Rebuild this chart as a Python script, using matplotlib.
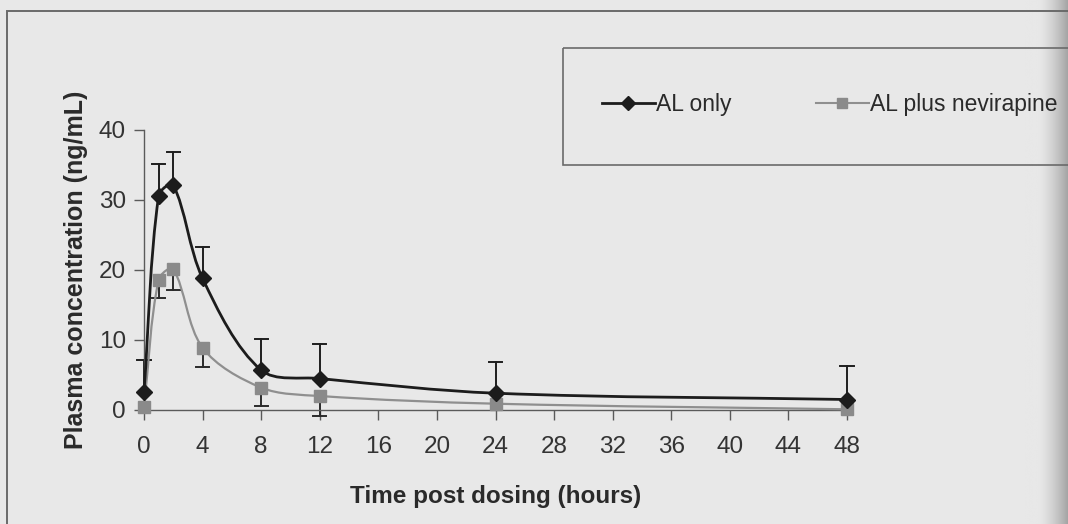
import numpy as np
import matplotlib
matplotlib.use("Agg")
import matplotlib.pyplot as plt
from matplotlib.path import Path
from matplotlib.patches import PathPatch, Rectangle
from matplotlib.lines import Line2D
from matplotlib.colors import LinearSegmentedColormap

# ---- data ----
time_h = [0, 1, 2, 4, 8, 12, 24, 48]
al_only = [2.6, 30.6, 32.1, 18.8, 5.7, 4.5, 2.4, 1.5]
al_only_upper = [7.1, 35.2, 36.8, 23.3, 10.2, 9.4, 6.9, 6.3]
al_nev = [0.5, 18.6, 20.1, 8.9, 3.2, 2.0, 0.9, 0.1]
al_nev_lower = [None, 16.0, 17.1, 6.2, 0.6, -0.9, None, None]
x_ticks = list(range(0, 49, 4))
y_ticks = [0, 10, 20, 30, 40]
series_names = ["AL only", "AL plus nevirapine"]

BG = "#e8e8e8"
FONT = ["Liberation Sans", "DejaVu Sans"]
NARROW = ["Liberation Sans Narrow", "Liberation Sans", "DejaVu Sans"]
plt.rcParams["font.family"] = FONT

W, H = 1068, 524
fig = plt.figure(figsize=(W / 100, H / 100), dpi=100, facecolor=BG)

# scanned-page right edge shading, page frame, legend box
bg_ax = fig.add_axes([0, 0, 1, 1], zorder=-10)
bg_ax.set_xlim(0, W); bg_ax.set_ylim(H, 0); bg_ax.axis("off")
xs = np.linspace(0, 1, 200)
shade = np.clip((xs - 0.3) / 0.7, 0, 1) ** 1.5
grad = np.vstack([shade, shade])
cm = LinearSegmentedColormap.from_list("edge", [BG, "#a4a4a4"])
bg_ax.imshow(grad, extent=[1025, W, H, 0], aspect="auto", cmap=cm, vmin=0, vmax=1)
bg_ax.plot([7, 7, W], [H, 11, 11], color="#6a6a6a", lw=1.4, solid_joinstyle="miter")
bg_ax.add_patch(Rectangle((563, 48), 600, 117, fill=False, ec="#6a6a6a", lw=1.2))

ax = fig.add_axes([144 / W, (H - 410) / H, (847 - 144) / W, (410 - 130) / H])
ax.set_facecolor("none")
ax.set_xlim(0, 48)
ax.set_ylim(0, 40)
for s in ["top", "right"]:
    ax.spines[s].set_visible(False)
for s in ["left", "bottom"]:
    ax.spines[s].set_color("#5a5a5a")
    ax.spines[s].set_linewidth(1.0)
ax.spines["bottom"].set_bounds(0, 48.3)
ax.set_xticks(x_ticks)
ax.set_yticks(y_ticks)
ax.tick_params(axis="both", direction="out", length=7, width=1.0, color="#5a5a5a",
               labelsize=17.5, labelcolor="#333333")
ax.tick_params(axis="x", pad=12)
ax.tick_params(axis="y", pad=6)


def smooth_path(xv, yv):
    """Bezier smoothing computed in display space, chord-length scaled tangents."""
    tr = ax.transData
    pts = tr.transform(np.column_stack([xv, yv]).astype(float))
    n = len(pts)
    verts = [pts[0]]
    codes = [Path.MOVETO]
    for i in range(n - 1):
        p0 = pts[i - 1] if i > 0 else pts[i]
        p1 = pts[i]
        p2 = pts[i + 1]
        p3 = pts[i + 2] if i + 2 < n else pts[i + 1]
        d01 = np.hypot(*(p1 - p0)); d12 = np.hypot(*(p2 - p1)); d23 = np.hypot(*(p3 - p2))
        s1 = d12 / (d01 + d12) if d01 + d12 > 0 else 0
        s2 = d12 / (d12 + d23) if d12 + d23 > 0 else 0
        c1 = p1 + (p2 - p0) * s1 / 3.0
        c2 = p2 - (p3 - p1) * s2 / 3.0
        verts += [c1, c2, p2]
        codes += [Path.CURVE4] * 3
    verts = tr.inverted().transform(np.array(verts))
    return Path(verts, codes)


def draw_series(xv, yv, color, lw, marker, ms, mcolor, z):
    ax.add_patch(PathPatch(smooth_path(xv, yv), fill=False, ec=color, lw=lw,
                           zorder=z, clip_on=False))
    ax.plot(xv, yv, ls="none", marker=marker, ms=ms, color=mcolor, mec=mcolor,
            zorder=z + 1, clip_on=False)


def draw_err(xv, yv, ends, color, z):
    for x, y, e in zip(xv, yv, ends):
        if e is None:
            continue
        ax.plot([x, x], [y, e], color=color, lw=1.4, zorder=z, clip_on=False)
        ax.plot([x - 0.45, x + 0.45], [e, e], color=color, lw=1.4, zorder=z, clip_on=False)


draw_err(time_h, al_nev, al_nev_lower, "#2a2a2a", 2)
draw_err(time_h, al_only, al_only_upper, "#1e1e1e", 2)
draw_series(time_h, al_nev, "#8f8f8f", 1.6, "s", 8, "#8a8a8a", 3)
draw_series(time_h, al_only, "#1c1c1c", 2.0, "D", 8, "#1c1c1c", 5)

ax.set_xlabel("Time post dosing (hours)", fontsize=17.5, fontweight="bold",
              family=NARROW, color="#2a2a2a", labelpad=19)
ax.set_ylabel("Plasma concentration (ng/mL)", fontsize=18, fontweight="bold",
              color="#2a2a2a", labelpad=8)

handles = [
    Line2D([], [], color="#1c1c1c", lw=2.0, marker="D", ms=7, mec="#1c1c1c"),
    Line2D([], [], color="#8f8f8f", lw=1.5, marker="s", ms=7, mfc="#8a8a8a", mec="#8a8a8a"),
]
fig.legend(handles, series_names, loc="center left", bbox_to_anchor=(602 / W, 1 - 105 / H),
           ncol=2, frameon=False, fontsize=16.5, handlelength=2.3, handletextpad=0.05,
           columnspacing=3.7, borderpad=0, borderaxespad=0, labelcolor="#2a2a2a")

fig.savefig("out.png", dpi=100, facecolor=BG)
